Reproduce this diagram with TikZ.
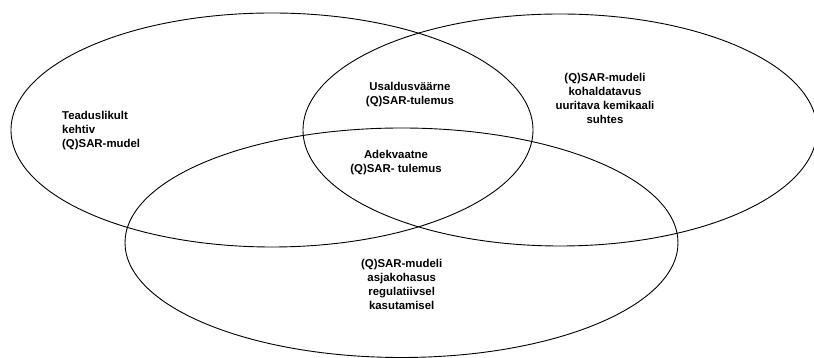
\documentclass[tikz,border=0pt]{standalone}
\usepackage{fontspec}
\setmainfont{Liberation Sans}
\begin{document}
\begin{tikzpicture}[x=1pt,y=1pt,
  venn/.style={draw=black,line width=0.9pt},
  lbl/.style={font=\fontsize{11.4}{14}\selectfont\bfseries,inner sep=0pt,align=center,anchor=base}]
\useasboundingbox (0,0) rectangle (814,358);
\draw[venn] (272,228) ellipse [x radius=261, y radius=117];
\draw[venn] (560,228) ellipse [x radius=257, y radius=116];
\draw[venn] (401.5,115.25) ellipse [x radius=276.5, y radius=114.75];
\node[lbl,align=left,anchor=base west] (t1) at (62,210.5) {Teaduslikult\\kehtiv\\(Q)SAR-mudel};
\node[lbl] (t2) at (410,253.7) {Usaldusväärne\\(Q)SAR-tulemus};
\node[lbl] (t3) at (396,185.7) {Adekvaatne\\(Q)SAR- tulemus};
\node[lbl] (t4) at (605,234.3) {(Q)SAR-mudeli\\kohaldatavus\\uuritava kemikaali\\suhtes};
\node[lbl] (t5) at (401.7,48) {(Q)SAR-mudeli\\asjakohasus\\regulatiivsel\\kasutamisel};
\end{tikzpicture}
\end{document}
